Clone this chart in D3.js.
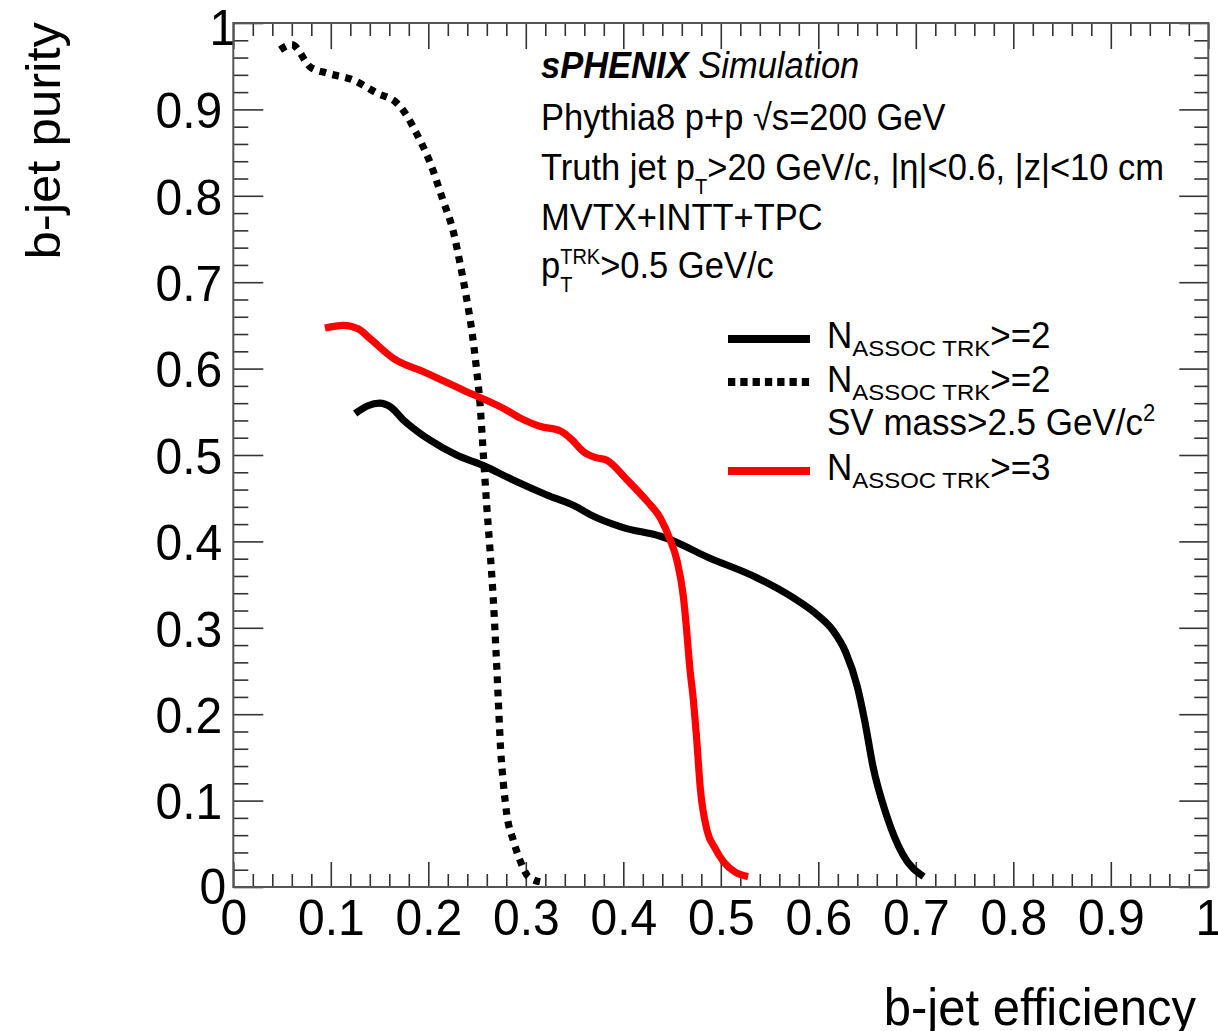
<!DOCTYPE html>
<html><head><meta charset="utf-8">
<script src="https://cdn.jsdelivr.net/npm/d3@7"></script>
<style>
body{margin:0;background:#fff;}
svg{display:block;font-family:"Liberation Sans",Arial,Helvetica,sans-serif;}
</style></head><body>
<svg id="c" width="1218" height="1031"></svg>
<script>
// ---- data ----
const majorTicks = [0,0.1,0.2,0.3,0.4,0.5,0.6,0.7,0.8,0.9,1];
const tickLabels = ["0","0.1","0.2","0.3","0.4","0.5","0.6","0.7","0.8","0.9","1"];
const minorTicks = [0.02,0.04,0.06,0.08,0.12,0.14,0.16,0.18,0.22,0.24,0.26,0.28,0.32,0.34,0.36,0.38,0.42,0.44,0.46,0.48,0.52,0.54,0.56,0.58,0.62,0.64,0.66,0.68,0.72,0.74,0.76,0.78,0.82,0.84,0.86,0.88,0.92,0.94,0.96,0.98];

// N_ASSOC TRK >= 2 (solid black)
const effTrk2 = [0.125,0.138,0.150,0.162,0.174,0.188,0.202,0.229,0.256,0.287,0.321,0.352,0.366,0.400,0.438,0.448,0.486,0.537,0.574,0.600,0.615,0.628,0.640,0.648,0.656,0.670,0.687,0.708];
const purTrk2 = [0.548,0.557,0.560,0.555,0.541,0.528,0.517,0.500,0.488,0.471,0.454,0.440,0.431,0.416,0.406,0.402,0.382,0.358,0.335,0.314,0.297,0.272,0.232,0.190,0.140,0.083,0.037,0.012];
// N_ASSOC TRK >= 2, SV mass > 2.5 (dotted black)
const effTrk2SV = [0.048,0.060,0.079,0.096,0.123,0.147,0.168,0.176,0.188,0.202,0.215,0.226,0.2325,0.239,0.2445,0.2496,0.253,0.2564,0.260,0.2633,0.2667,0.2694,0.2718,0.2742,0.277,0.2804,0.2872,0.294,0.3026,0.3146];
const purTrk2SV = [0.969,0.975,0.949,0.942,0.934,0.919,0.907,0.896,0.872,0.838,0.795,0.757,0.722,0.683,0.645,0.598,0.560,0.502,0.440,0.390,0.332,0.274,0.216,0.159,0.120,0.085,0.054,0.031,0.012,0.006];
// N_ASSOC TRK >= 3 (solid red)
const effTrk3 = [0.094,0.113,0.128,0.140,0.164,0.198,0.236,0.277,0.294,0.315,0.335,0.347,0.359,0.372,0.383,0.404,0.424,0.438,0.448,0.455,0.4615,0.465,0.468,0.472,0.475,0.479,0.486,0.494,0.503,0.515,0.528];
const purTrk3 = [0.647,0.650,0.646,0.635,0.612,0.595,0.575,0.554,0.543,0.533,0.528,0.518,0.504,0.497,0.494,0.471,0.447,0.427,0.402,0.378,0.337,0.297,0.256,0.215,0.175,0.114,0.065,0.045,0.029,0.017,0.012];

const xTitle = "b-jet efficiency";
const yTitle = "b-jet purity";

// ---- layout ----
const SY = 1.06; // vertical stretch of text
const X0 = 233.3, X1 = 1208.3, Y0 = 887, Y1 = 23;
const svg = d3.select("#c");
const x = d3.scaleLinear().domain([0,1]).range([X0,X1]);
const y = d3.scaleLinear().domain([0,1]).range([Y0,Y1]);
const tickColor = "#333";

function styleAxis(g){
  g.select(".domain").remove();
  g.attr("color", tickColor);
  g.selectAll(".tick line").attr("stroke-width",1.6);
}
const fmt = d => tickLabels[majorTicks.indexOf(d)];

// bottom
const gb = svg.append("g").attr("transform",`translate(0,${Y0})`)
  .call(d3.axisBottom(x).tickValues(majorTicks).tickSize(-25).tickPadding(12).tickFormat(fmt));
styleAxis(gb);
gb.selectAll("text").attr("font-size",48).attr("fill","#000")
  .attr("font-family",'"Liberation Sans",Arial,sans-serif')
  .attr("y",12/SY).attr("transform",`scale(1,${SY})`);
svg.append("g").attr("transform",`translate(0,${Y0})`)
  .call(d3.axisBottom(x).tickValues(minorTicks).tickSize(-13).tickFormat("")).call(styleAxis);
// top
svg.append("g").attr("transform",`translate(0,${Y1})`)
  .call(d3.axisTop(x).tickValues(majorTicks).tickSize(-26).tickFormat("")).call(styleAxis);
svg.append("g").attr("transform",`translate(0,${Y1})`)
  .call(d3.axisTop(x).tickValues(minorTicks).tickSize(-13).tickFormat("")).call(styleAxis);
// left
const gl = svg.append("g").attr("transform",`translate(${X0},0)`)
  .call(d3.axisLeft(y).tickValues(majorTicks).tickSize(-30).tickPadding(11).tickFormat(fmt));
styleAxis(gl);
gl.selectAll("text").attr("font-size",48).attr("fill","#000")
  .attr("font-family",'"Liberation Sans",Arial,sans-serif')
  .attr("dy","0.36em").attr("transform",`scale(1,${SY})`);
gl.selectAll(".tick").filter(d=>d===1).select("text").attr("dx",14).attr("dy","0.42em");
gl.selectAll(".tick").filter(d=>d===0).select("text").attr("dx",4).attr("dy","0.32em");
svg.append("g").attr("transform",`translate(${X0},0)`)
  .call(d3.axisLeft(y).tickValues(minorTicks).tickSize(-15).tickFormat("")).call(styleAxis);
// right
svg.append("g").attr("transform",`translate(${X1},0)`)
  .call(d3.axisRight(y).tickValues(majorTicks).tickSize(-29).tickFormat("")).call(styleAxis);
svg.append("g").attr("transform",`translate(${X1},0)`)
  .call(d3.axisRight(y).tickValues(minorTicks).tickSize(-14).tickFormat("")).call(styleAxis);

// frame
svg.append("rect").attr("x",X0).attr("y",Y1).attr("width",X1-X0).attr("height",Y0-Y1)
  .attr("fill","none").attr("stroke","#555").attr("stroke-width",2);

// axis titles
svg.append("text").attr("transform",`translate(1196,1025) scale(1,${SY})`)
  .attr("text-anchor","end").attr("font-size",49).text(xTitle);
svg.append("text").attr("transform",`translate(60,22) scale(1,${SY}) rotate(-90)`)
  .attr("text-anchor","end").attr("font-size",48).text(yTitle);

// curves
const line = d3.line().x(d=>x(d[0])).y(d=>y(d[1])).curve(d3.curveMonotoneX);
const series = [
  {ex: effTrk2SV, py: purTrk2SV, color:"#000", dash:"6.7,6.5"},
  {ex: effTrk2, py: purTrk2, color:"#000", dash:null},
  {ex: effTrk3, py: purTrk3, color:"#f00", dash:null}
];
series.forEach(s=>{
  const pts = s.ex.map((v,i)=>[v,s.py[i]]);
  const p = svg.append("path").attr("d",line(pts)).attr("fill","none")
    .attr("stroke",s.color).attr("stroke-width",7.2).attr("stroke-linejoin","round")
    .attr("stroke-linecap","butt");
  if(s.dash) p.attr("stroke-dasharray",s.dash);
});

// text block
function tline(xp, yp, size){
  return svg.append("text").attr("transform",`translate(${xp},${yp}) scale(1,${SY})`).attr("font-size",size);
}
const TX = 541, FS = 34.5, SS = 20;
let t = tline(TX,78,FS);
t.append("tspan").attr("font-weight","bold").attr("font-style","italic").text("sPHENIX");
t.append("tspan").attr("font-style","italic").text(" Simulation");
t = tline(TX,130,FS);
t.append("tspan").text("Phythia8 p+p ");
t.append("tspan").text("\u221As");
t.append("tspan").text("=200 GeV");
t = tline(TX,180,FS);
t.append("tspan").text("Truth jet p");
t.append("tspan").attr("font-size",SS).attr("dy",13).text("T");
t.append("tspan").attr("dy",-13).text(">20 GeV/c, |\u03B7|<0.6, |z|<10 cm");
tline(TX,230,FS).text("MVTX+INTT+TPC");
t = tline(TX,278,FS);
t.append("tspan").text("p");
t.append("tspan").attr("font-size",SS).attr("dy",13).text("T");
t.append("tspan").attr("font-size",SS).attr("dx","-0.611em").attr("dy",-26).text("TRK");
t.append("tspan").attr("dy",13).text(">0.5 GeV/c");

// legend
const legend = [
  {label:">=2", color:"#000", dash:null, ly:339, ty:348},
  {label:">=2", color:"#000", dash:"7.3,5", ly:382, ty:392},
  {label:">=3", color:"#f00", dash:null, ly:471, ty:480}
];
const LX0 = 728, LX1 = 810, LTX = 827, LFS = 35;
legend.forEach(e=>{
  const l = svg.append("line").attr("x1",LX0).attr("x2",LX1).attr("y1",e.ly).attr("y2",e.ly)
    .attr("stroke",e.color).attr("stroke-width",8);
  if(e.dash) l.attr("stroke-dasharray",e.dash);
  const tt = tline(LTX,e.ty,LFS);
  tt.append("tspan").text("N");
  tt.append("tspan").attr("font-size",20).attr("dy",8).attr("textLength",138).attr("lengthAdjust","spacingAndGlyphs").text("ASSOC TRK");
  tt.append("tspan").attr("dy",-8).text(e.label);
});
const sv = tline(LTX,435,LFS);
sv.append("tspan").text("SV mass>2.5 GeV/c");
sv.append("tspan").attr("font-size",22).attr("dy",-13).text("2");
</script>
</body></html>
